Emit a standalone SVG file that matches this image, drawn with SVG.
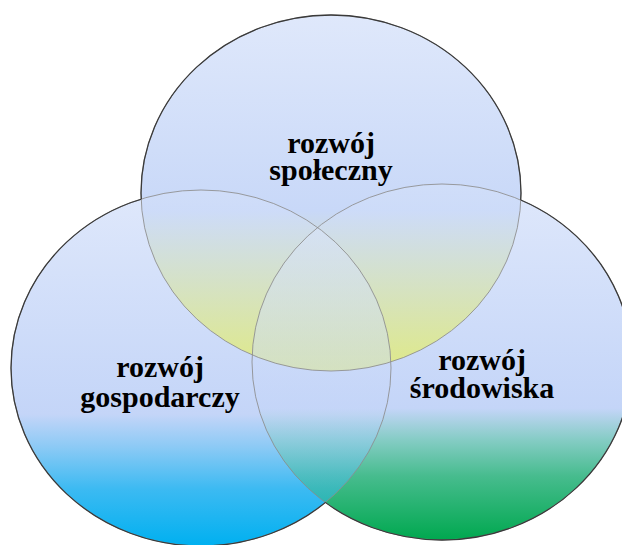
<svg xmlns="http://www.w3.org/2000/svg" width="622" height="545" viewBox="0 0 622 545">
<style>
  .lbl { font-family: "Liberation Serif", "Times New Roman", serif; font-weight: bold; font-size: 30px; fill: #000; text-anchor: middle; }
  .inner { fill: none; stroke: #8c8c8c; stroke-width: 1; stroke-opacity: 0.85; }
  .outer { fill: none; stroke: #3a3a3a; stroke-width: 1.3; }
</style>
<defs>
  <linearGradient id="gTop" gradientUnits="userSpaceOnUse" x1="0" y1="15" x2="0" y2="371">
    <stop offset="0" stop-color="#dfe8fb"/>
    <stop offset="0.55" stop-color="#c8d8f8"/>
    <stop offset="1" stop-color="#e6ef62"/>
  </linearGradient>
  <linearGradient id="gLeft" gradientUnits="userSpaceOnUse" x1="0" y1="190" x2="0" y2="546">
    <stop offset="0" stop-color="#dfe8fb"/>
    <stop offset="0.63" stop-color="#c4d5f8"/>
    <stop offset="0.72" stop-color="#8dcaf5"/>
    <stop offset="0.84" stop-color="#3cbaf2"/>
    <stop offset="1" stop-color="#00b0f0"/>
  </linearGradient>
  <linearGradient id="gRight" gradientUnits="userSpaceOnUse" x1="0" y1="184" x2="0" y2="540">
    <stop offset="0" stop-color="#dfe8fb"/>
    <stop offset="0.63" stop-color="#c4d5f8"/>
    <stop offset="0.72" stop-color="#84ccc4"/>
    <stop offset="0.82" stop-color="#47bc8e"/>
    <stop offset="1" stop-color="#00a84f"/>
  </linearGradient>
  <clipPath id="cRight"><ellipse cx="442" cy="362" rx="190" ry="178"/></clipPath>
  <clipPath id="cLR">
    <ellipse cx="201" cy="368" rx="190" ry="178"/>
    <ellipse cx="442" cy="362" rx="190" ry="178"/>
  </clipPath>
  <mask id="mTop" maskUnits="userSpaceOnUse" x="0" y="0" width="622" height="545">
    <rect width="622" height="545" fill="#fff"/>
    <ellipse cx="201" cy="368" rx="190" ry="178" fill="#000"/>
    <ellipse cx="442" cy="362" rx="190" ry="178" fill="#000"/>
  </mask>
  <mask id="mLeft" maskUnits="userSpaceOnUse" x="0" y="0" width="622" height="545">
    <rect width="622" height="545" fill="#fff"/>
    <ellipse cx="331" cy="193" rx="190" ry="178" fill="#000"/>
    <ellipse cx="442" cy="362" rx="190" ry="178" fill="#000"/>
  </mask>
  <mask id="mRight" maskUnits="userSpaceOnUse" x="0" y="0" width="622" height="545">
    <rect width="622" height="545" fill="#fff"/>
    <ellipse cx="331" cy="193" rx="190" ry="178" fill="#000"/>
    <ellipse cx="201" cy="368" rx="190" ry="178" fill="#000"/>
  </mask>
</defs>
<rect width="622" height="545" fill="#ffffff"/>

<g id="node-spoleczny">
  <ellipse cx="331" cy="193" rx="190" ry="178" fill="url(#gTop)"/>
</g>
<g id="node-gospodarczy">
  <ellipse cx="201" cy="368" rx="190" ry="178" fill="url(#gLeft)"/>
</g>
<g id="node-srodowiska">
  <ellipse cx="442" cy="362" rx="190" ry="178" fill="url(#gRight)"/>
</g>

<g id="overlaps">
  <g clip-path="url(#cLR)">
    <ellipse cx="331" cy="193" rx="190" ry="178" fill="url(#gTop)" opacity="0.75"/>
  </g>
  <g clip-path="url(#cRight)">
    <ellipse cx="201" cy="368" rx="190" ry="178" fill="url(#gLeft)" opacity="0.5"/>
  </g>
</g>

<g id="outlines">
  <ellipse class="inner" cx="331" cy="193" rx="190" ry="178"/>
  <ellipse class="inner" cx="201" cy="368" rx="190" ry="178"/>
  <ellipse class="inner" cx="442" cy="362" rx="190" ry="178"/>
  <ellipse class="outer" cx="331" cy="193" rx="190" ry="178" mask="url(#mTop)"/>
  <ellipse class="outer" cx="201" cy="368" rx="190" ry="178" mask="url(#mLeft)"/>
  <ellipse class="outer" cx="442" cy="362" rx="190" ry="178" mask="url(#mRight)"/>
</g>

<g id="labels">
  <text class="lbl" x="331" y="153">rozwój</text>
  <text class="lbl" x="331" y="180">społeczny</text>
  <text class="lbl" x="160" y="377">rozwój</text>
  <text class="lbl" x="160" y="407">gospodarczy</text>
  <text class="lbl" x="482" y="370">rozwój</text>
  <text class="lbl" x="482" y="398">środowiska</text>
</g>
</svg>
